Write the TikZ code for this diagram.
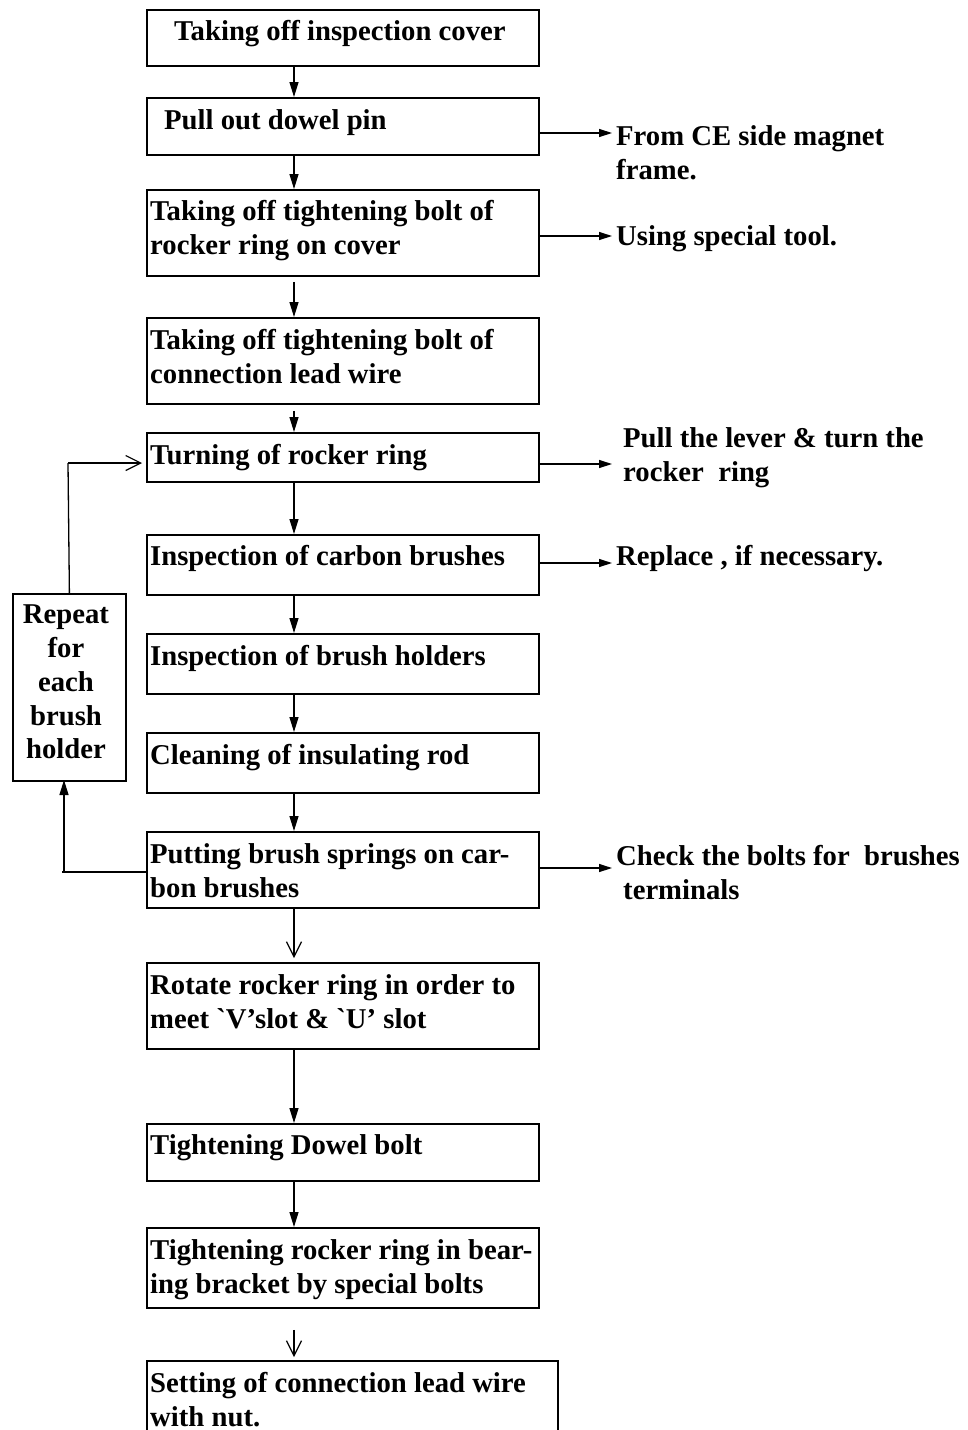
\documentclass[tikz,border=0pt]{standalone}
\usepackage{fontspec}
\setmainfont{Liberation Serif}[Ligatures=TeXOff]
\usetikzlibrary{arrows.meta}
\begin{document}
\begin{tikzpicture}[x=1pt,y=-1pt,
  box/.style={draw,line width=1.8pt,inner sep=0pt},
  txt/.style={anchor=base west,inner sep=0pt,font=\bfseries\fontsize{28.7}{34}\selectfont},
  ctxt/.style={anchor=base,inner sep=0pt,font=\bfseries\fontsize{28.7}{34}\selectfont},
  flow/.style={line width=1.3pt,-{Triangle[length=15pt,width=9pt]}},
  side/.style={line width=1.3pt,-{Triangle[length=13pt,width=8pt]}},
  openflow/.style={line width=1.2pt,-{Straight Barb[length=15pt,width=15pt]}}]
\useasboundingbox (0,0) rectangle (967,1430);
\fill[white] (0,0) rectangle (967,1430);
% boxes
\newcommand{\mybox}[5]{\node[box,minimum width={#4-#2},minimum height={#5-#3},anchor=north west] (#1) at (#2,#3) {};}
\mybox{b1}{146}{9}{538}{65}
\mybox{b2}{146}{97}{538}{154}
\mybox{b3}{146}{189}{538}{275}
\mybox{b4}{146}{317}{538}{403}
\mybox{b5}{146}{432}{538}{481}
\mybox{b6}{146}{534}{538}{594}
\mybox{b7}{146}{633}{538}{693}
\mybox{b8}{146}{732}{538}{792}
\mybox{b9}{146}{831}{538}{907}
\mybox{b10}{146}{962}{538}{1048}
\mybox{b11}{146}{1123}{538}{1180}
\mybox{b12}{146}{1227}{538}{1307}
\mybox{b13}{146}{1360}{557}{1460}
\mybox{rep}{12}{593}{125}{780}
% texts
\node[txt] (t1) at (174,40) {Taking off inspection cover};
\node[txt] (t2) at (164,129) {Pull out dowel pin};
\node[txt] (t3a) at (150,220) {Taking off tightening bolt of};
\node[txt] (t3b) at (150,254) {rocker ring on cover};
\node[txt] (t4a) at (150,349) {Taking off tightening bolt of};
\node[txt] (t4b) at (150,383) {connection lead wire};
\node[txt] (t5) at (150,464) {Turning of rocker ring};
\node[txt] (t6) at (150,565) {Inspection of carbon brushes};
\node[txt] (t7) at (150,665) {Inspection of brush holders};
\node[txt] (t8) at (150,764) {Cleaning of insulating rod};
\node[txt] (t9a) at (150,863) {Putting brush springs on car-};
\node[txt] (t9b) at (150,897) {bon brushes};
\node[txt] (t10a) at (150,994) {Rotate rocker ring in order to};
\node[txt] (t10b) at (150,1028) {meet \symbol{96}V’slot \& \symbol{96}U’ slot};
\node[txt] (t11) at (150,1154) {Tightening Dowel bolt};
\node[txt] (t12a) at (150,1259) {Tightening rocker ring in bear-};
\node[txt] (t12b) at (150,1293) {ing bracket by special bolts};
\node[txt] (t13a) at (150,1392) {Setting of connection lead wire};
\node[txt] (t13b) at (150,1426) {with nut.};
\node[ctxt] (r1) at (66,623) {Repeat};
\node[ctxt] (r2) at (66,657) {for};
\node[ctxt] (r3) at (66,691) {each};
\node[ctxt] (r4) at (66,725) {brush};
\node[ctxt] (r5) at (66,758) {holder};
% side notes
\node[txt] (s2a) at (616,145) {From CE side magnet};
\node[txt] (s2b) at (616,179) {frame.};
\node[txt] (s3) at (616,245) {Using special tool.};
\node[txt] (s5a) at (623,447) {Pull the lever \& turn the};
\node[txt] (s5b) at (623,481) {rocker\ \ ring};
\node[txt] (s6) at (616,565) {Replace , if necessary.};
\node[txt] (s9a) at (616,865) {Check the bolts for\ \ brushes};
\node[txt] (s9b) at (623,899) {terminals};
% side arrow targets
\coordinate (e2) at (612,133);
\coordinate (e3) at (612,236);
\coordinate (e5) at (612,464);
\coordinate (e6) at (612,563);
\coordinate (e9) at (612,868);
\draw[side] (b2.east |- e2) -- (e2);
\draw[side] (b3.east |- e3) -- (e3);
\draw[side] (b5.east |- e5) -- (e5);
\draw[side] (b6.east |- e6) -- (e6);
\draw[side] (b9.east |- e9) -- (e9);
% main flow (x = 294)
\coordinate (cx) at (294,0);
\draw[flow] (cx |- b1.south) -- (cx |- b2.north);
\draw[flow] (cx |- b2.south) -- (cx |- b3.north);
\draw[flow] ([yshift=-5pt]cx |- b3.south) -- (cx |- b4.north);
\draw[flow] ([yshift=-6pt]cx |- b4.south) -- (cx |- b5.north);
\draw[flow] (cx |- b5.south) -- (cx |- b6.north);
\draw[flow] (cx |- b6.south) -- (cx |- b7.north);
\draw[flow] (cx |- b7.south) -- (cx |- b8.north);
\draw[flow] (cx |- b8.south) -- (cx |- b9.north);
\draw[openflow] (cx |- b9.south) -- ([yshift=4pt]cx |- b10.north);
\draw[flow] (cx |- b10.south) -- (cx |- b11.north);
\draw[flow] (cx |- b11.south) -- (cx |- b12.north);
\draw[openflow] ([yshift=-21pt]cx |- b12.south) -- ([yshift=3pt]cx |- b13.north);
% loop
\coordinate (lp) at (62,872);
\draw[line width=1.3pt] (b9.west |- lp) -- (lp);
\draw[flow] (64,872) -- (64,780);
\draw[line width=1.3pt] (rep.north) -- (68,463);
\draw[openflow] (68,463) -- ([xshift=-4pt]b5.west |- 0,463);
\end{tikzpicture}
\end{document}
